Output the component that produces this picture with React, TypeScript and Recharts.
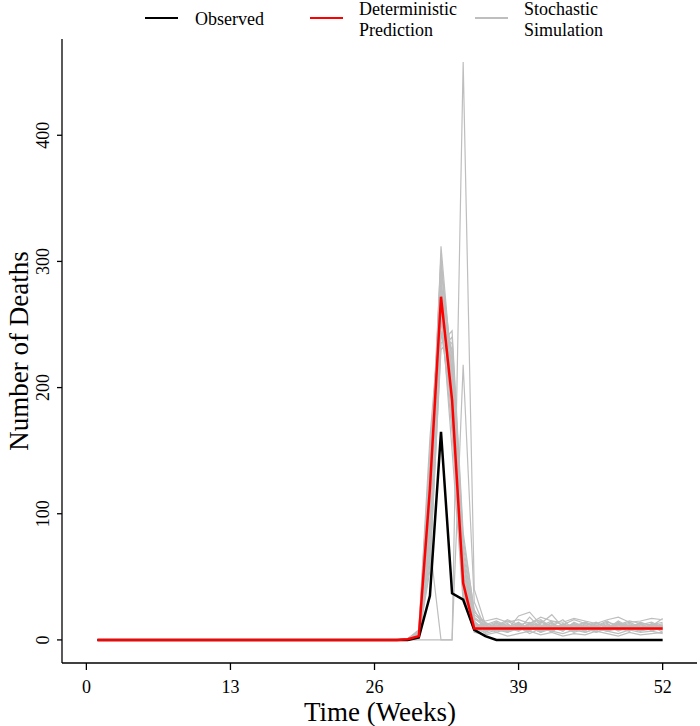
import { LineChart, Line, XAxis, YAxis, Legend } from "recharts";

const weeks = [
  1, 2, 3, 4, 5, 6, 7, 8, 9, 10, 11, 12, 13, 14, 15, 16, 17, 18, 19, 20, 21, 22, 23, 24, 25, 26,
  27, 28, 29, 30, 31, 32, 33, 34, 35, 36, 37, 38, 39, 40, 41, 42, 43, 44, 45, 46, 47, 48, 49, 50, 51, 52,
];

const observed = [
  0, 0, 0, 0, 0, 0, 0, 0, 0, 0, 0, 0, 0, 0, 0, 0, 0, 0, 0, 0, 0, 0, 0, 0, 0, 0, 0, 0, 0,
  2, 35, 165, 37, 32, 8, 3,
  0, 0, 0, 0, 0, 0, 0, 0, 0, 0, 0, 0, 0, 0, 0, 0,
];

const predicted = [
  0, 0, 0, 0, 0, 0, 0, 0, 0, 0, 0, 0, 0, 0, 0, 0, 0, 0, 0, 0, 0, 0, 0, 0, 0, 0, 0, 0,
  0.5, 3, 120, 272, 190, 45, 9,
  9, 9, 9, 9, 9, 9, 9, 9, 9, 9, 9, 9, 9, 9, 9, 9, 9,
];

// stochastic runs, weeks 29..52 (every run is 0 before week 29)
const simStart = 29;
const sim01 = [0, 3, 95, 312, 210, 45, 14, 8, 11, 6, 9, 13, 7, 10, 8, 12, 6, 9, 11, 7, 10, 8, 12, 9];
const sim02 = [0, 6, 140, 285, 180, 38, 10, 12, 7, 10, 14, 8, 11, 6, 13, 9, 10, 7, 12, 8, 11, 13, 7, 10];
const sim03 = [1, 8, 160, 265, 150, 30, 9, 6, 10, 13, 7, 11, 9, 14, 8, 10, 12, 6, 9, 13, 8, 10, 11, 6];
const sim04 = [0, 2, 55, 235, 245, 85, 22, 14, 9, 7, 12, 10, 15, 8, 11, 7, 13, 10, 8, 14, 9, 7, 12, 11];
const sim05 = [0, 4, 120, 300, 195, 50, 12, 9, 13, 10, 8, 18, 9, 12, 10, 7, 11, 14, 9, 10, 12, 8, 13, 10];
const sim06 = [0, 1, 70, 250, 230, 70, 18, 11, 8, 12, 9, 7, 13, 20, 10, 13, 8, 11, 15, 9, 7, 12, 10, 13];
const sim07 = [0, 5, 105, 275, 205, 55, 15, 7, 14, 9, 11, 10, 6, 11, 16, 8, 12, 9, 7, 11, 14, 10, 8, 12];
const sim08 = [0, 3, 85, 295, 220, 60, 13, 10, 9, 15, 10, 12, 8, 9, 12, 11, 7, 13, 10, 12, 9, 14, 11, 17];
const sim09 = [1, 7, 150, 255, 165, 42, 11, 13, 10, 8, 19, 22, 12, 10, 7, 14, 10, 8, 12, 10, 13, 9, 10, 8];
const sim10 = [0, 0, 0, 0, 0, 458, 40, 12, 9, 11, 8, 13, 10, 7, 12, 9, 11, 10, 13, 8, 10, 12, 9, 11];
const sim11 = [0, 2, 75, 0, 0, 218, 30, 9, 12, 8, 11, 7, 14, 11, 9, 12, 8, 10, 7, 13, 11, 9, 12, 10];
const sim12 = [0, 4, 110, 245, 185, 35, 6, 4, 6, 3, 5, 7, 4, 6, 3, 5, 4, 7, 5, 3, 6, 4, 5, 6];
const sim13 = [0, 2, 80, 280, 200, 65, 16, 15, 17, 14, 16, 13, 18, 15, 14, 17, 15, 13, 16, 18, 14, 15, 17, 16];
const sim14 = [0, 3, 100, 260, 215, 50, 10, 7, 9, 12, 8, 10, 6, 9, 11, 8, 10, 12, 7, 9, 11, 8, 10, 9];
const sim15 = [0, 5, 130, 290, 175, 40, 8, 11, 14, 9, 12, 8, 10, 13, 9, 11, 14, 10, 8, 12, 10, 13, 9, 11];
const sim16 = [1, 6, 115, 270, 190, 48, 12, 5, 8, 6, 10, 5, 9, 7, 5, 8, 6, 9, 7, 5, 8, 6, 7, 5];
const sim17 = [0, 2, 65, 240, 235, 75, 20, 13, 11, 16, 12, 14, 11, 15, 12, 16, 13, 11, 14, 12, 15, 13, 12, 14];
const sim18 = [0, 4, 125, 305, 200, 52, 13, 9, 12, 10, 13, 9, 11, 8, 12, 10, 9, 13, 11, 8, 12, 10, 11, 9];
const sim19 = [0, 3, 90, 280, 225, 62, 17, 10, 6, 9, 7, 12, 8, 10, 7, 13, 9, 6, 10, 8, 11, 7, 9, 12];
const sim20 = [1, 7, 145, 275, 170, 36, 9, 12, 15, 11, 9, 13, 16, 10, 12, 9, 14, 11, 9, 15, 10, 12, 14, 10];
const sim21 = [0, 2, 60, 230, 240, 80, 24, 8, 10, 7, 11, 9, 7, 12, 10, 6, 9, 11, 8, 10, 7, 11, 9, 8];

const simulations = [
  sim01, sim02, sim03, sim04, sim05, sim06, sim07, sim08, sim09, sim10, sim11,
  sim12, sim13, sim14, sim15, sim16, sim17, sim18, sim19, sim20, sim21,
];

const xTicks = [0, 13, 26, 39, 52];
const yTicks = [0, 100, 200, 300, 400];

const rows = weeks.map((week, i) => {
  const row: Record<string, number> = { week, observed: observed[i], predicted: predicted[i] };
  simulations.forEach((s, k) => {
    row[`sim${k}`] = week < simStart ? 0 : s[week - simStart];
  });
  return row;
});

const serif = "'Liberation Serif', 'Times New Roman', serif";

function LegendBox() {
  return (
    <svg width={700} height={42} style={{ display: "block" }}>
      <g fontFamily={serif} fontSize={18} fill="#000">
        <line x1={145} x2={178} y1={18} y2={18} stroke="#000" strokeWidth={2} />
        <text x={195} y={25}>Observed</text>
        <line x1={310} x2={343} y1={18} y2={18} stroke="#ff0000" strokeWidth={2} />
        <text x={359} y={15}>Deterministic</text>
        <text x={359} y={36}>Prediction</text>
        <line x1={475} x2={508} y1={18} y2={18} stroke="#bebebe" strokeWidth={2} />
        <text x={524} y={15}>Stochastic</text>
        <text x={524} y={36}>Simulation</text>
      </g>
    </svg>
  );
}

function XTick({ x, y, payload }: any) {
  return (
    <text x={x} y={y + 21} textAnchor="middle" fontFamily={serif} fontSize={18} fill="#000">
      {payload.value}
    </text>
  );
}

function YTick({ x, y, payload }: any) {
  return (
    <text
      x={x - 6}
      y={y}
      transform={`rotate(-90 ${x - 6} ${y})`}
      textAnchor="middle"
      fontFamily={serif}
      fontSize={18}
      fill="#000"
    >
      {payload.value}
    </text>
  );
}

export default function App() {
  return (
    <div style={{ position: "absolute", left: 0, top: 0, width: 700, height: 726, background: "#fff" }}>
      <LineChart width={700} height={726} data={rows} margin={{ top: 39, right: 3, bottom: 0, left: 0 }}>
        <XAxis
          dataKey="week"
          type="number"
          domain={[-2.2, 55.1]}
          ticks={xTicks}
          allowDataOverflow
          height={63}
          tickSize={7}
          tick={<XTick />}
          axisLine={{ stroke: "#000", strokeWidth: 1.3 }}
          tickLine={{ stroke: "#000", strokeWidth: 1.3 }}
          label={{
            content: () => (
              <text x={380} y={721} textAnchor="middle" fontFamily={serif} fontSize={27} fill="#000">
                Time (Weeks)
              </text>
            ),
          }}
        />
        <YAxis
          type="number"
          domain={[-18.3, 476.3]}
          ticks={yTicks}
          allowDataOverflow
          width={62}
          tickSize={5}
          tick={<YTick />}
          axisLine={{ stroke: "#000", strokeWidth: 1.3 }}
          tickLine={{ stroke: "#000", strokeWidth: 1.3 }}
          label={{
            content: () => (
              <text
                x={28}
                y={351}
                transform="rotate(-90 28 351)"
                textAnchor="middle"
                fontFamily={serif}
                fontSize={27}
                fill="#000"
              >
                Number of Deaths
              </text>
            ),
          }}
        />
        <Legend
          layout="horizontal"
          verticalAlign="middle"
          align="center"
          wrapperStyle={{ top: 0, left: 0, width: 700, height: 42 }}
          content={<LegendBox />}
        />
        {simulations.map((_, k) => (
          <Line
            key={k}
            dataKey={`sim${k}`}
            type="linear"
            stroke="#bebebe"
            strokeWidth={1.2}
            dot={false}
            activeDot={false}
            legendType="none"
            isAnimationActive={false}
          />
        ))}
        <Line
          dataKey="observed"
          type="linear"
          stroke="#000"
          strokeWidth={2.5}
          dot={false}
          isAnimationActive={false}
        />
        <Line
          dataKey="predicted"
          type="linear"
          stroke="#ff0000"
          strokeWidth={2.5}
          dot={false}
          isAnimationActive={false}
        />
      </LineChart>
    </div>
  );
}
